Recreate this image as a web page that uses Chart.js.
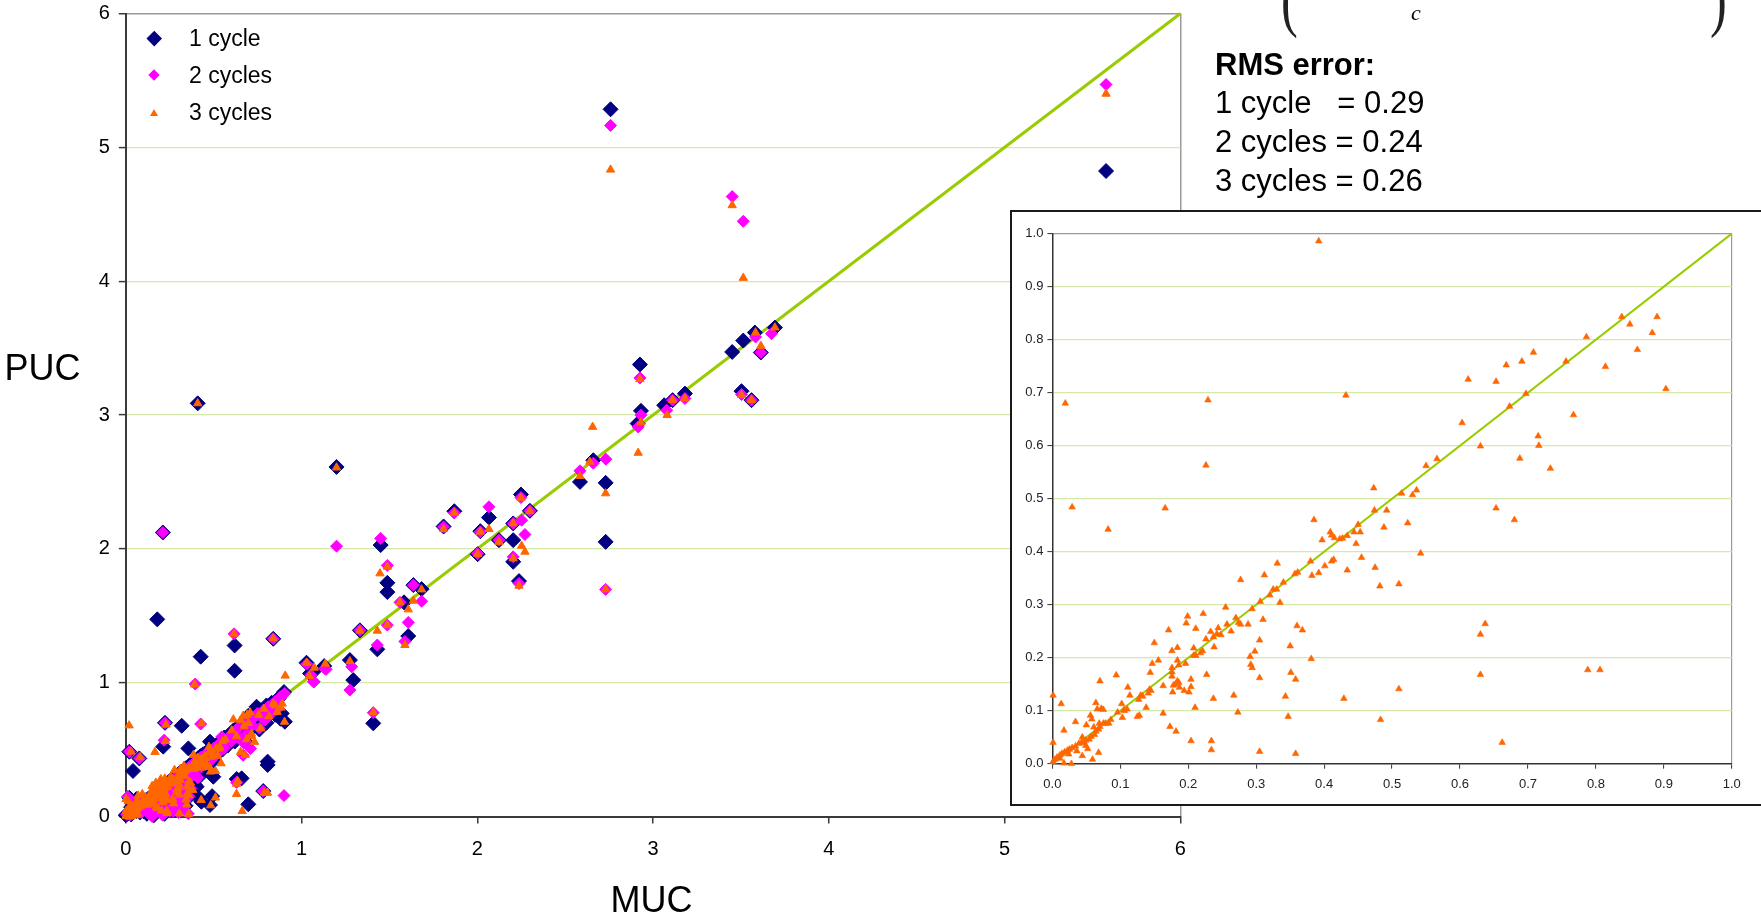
<!DOCTYPE html>
<html><head><meta charset="utf-8">
<script src="https://cdn.jsdelivr.net/npm/chart.js@4.4.1/dist/chart.umd.min.js"></script>
<style>
html,body{margin:0;padding:0;background:#fff;width:1761px;height:922px;overflow:hidden;position:relative;font-family:'Liberation Sans',Arial,sans-serif;}
#main{position:absolute;left:0;top:0;}
.txt{position:absolute;white-space:pre;color:#000;line-height:1;}
#inset{position:absolute;left:1010px;top:210px;width:760px;height:596px;border:2px solid #1a1a1a;box-sizing:border-box;background:#fff;}
#insetCanvas{position:absolute;left:0;top:0;}
.mk{position:absolute;}
.par{font-size:72px;font-family:'Liberation Serif','Times New Roman',serif;color:#222;transform:scaleX(0.7);transform-origin:left top;}
</style></head><body>
<canvas id="main" width="1761" height="922"></canvas>
<div id="inset"><canvas id="insetCanvas" width="756" height="592"></canvas></div>

<div class="txt" style="left:4.5px;top:350px;font-size:36px;">PUC</div>
<div class="txt" style="left:651.5px;top:882px;font-size:36px;transform:translateX(-50%);">MUC</div>

<div class="mk" style="left:148.5px;top:32.5px;width:10.5px;height:10.5px;background:#000080;transform:rotate(45deg);"></div>
<div class="mk" style="left:150px;top:71.2px;width:8px;height:8px;background:#FF00FF;transform:rotate(45deg);"></div>
<div class="mk" style="left:150px;top:108.5px;width:0;height:0;border-left:4px solid transparent;border-right:4px solid transparent;border-bottom:7px solid #FF6600;"></div>
<div class="txt" style="left:189px;top:27px;font-size:23px;">1 cycle</div>
<div class="txt" style="left:189px;top:64px;font-size:23px;">2 cycles</div>
<div class="txt" style="left:189px;top:101px;font-size:23px;">3 cycles</div>

<div class="txt" style="left:1215px;top:49px;font-size:31px;font-weight:bold;">RMS error:</div>
<div class="txt" style="left:1215px;top:87px;font-size:31px;">1 cycle   = 0.29</div>
<div class="txt" style="left:1215px;top:126px;font-size:31px;">2 cycles = 0.24</div>
<div class="txt" style="left:1215px;top:165px;font-size:31px;">3 cycles = 0.26</div>

<div class="txt par" style="left:1281px;top:-37px;">(</div>
<div class="txt" style="left:1411px;top:2px;font-size:22px;font-style:italic;font-family:'Liberation Serif','Times New Roman',serif;">c</div>
<div class="txt par" style="left:1710px;top:-37px;">)</div>

<script>
// ---- data (MUC, PUC) ----
const xTicks = [0,1,2,3,4,5,6];
const insetTicks = [0,0.1,0.2,0.3,0.4,0.5,0.6,0.7,0.8,0.9,1.0];
const identityLine = [[0,0],[6,6]];
const insetLine = [[0,0],[1,1]];

const cycle1 = [
[5.577,4.823],[2.758,5.284],[3.450,3.471],[3.513,3.556],[3.579,3.616],[3.693,3.653],[3.613,3.467],[3.503,3.178],[3.560,3.111],
[2.925,3.377],[2.931,3.031],[2.912,2.936],[3.063,3.073],[3.181,3.160],[3.111,3.111],[2.660,2.662],
[1.199,2.612],[1.450,2.028],[1.488,1.746],[1.488,1.677],[1.683,1.699],[1.583,1.600],[1.332,1.391],[1.431,1.249],[1.607,1.348],
[1.275,1.169],[1.294,1.019],[2.066,2.234],[1.869,2.281],[1.808,2.167],[2.017,2.132],[2.204,2.065],[2.204,1.903],[2.237,1.759],
[2.248,2.406],[2.299,2.284],[2.123,2.065],[2.002,1.960],[2.204,2.190],[2.730,2.493],[2.730,2.052],[2.584,2.500],
[1.028,1.149],[1.048,1.069],[1.129,1.124],[1.636,1.729],[1.408,0.696],[1.067,1.081],
[0.409,3.087],[0.211,2.122],[0.179,1.473],[0.426,1.194],[0.619,1.278],[0.619,1.089],[0.839,1.328],
[0.318,0.678],[0.041,0.340],[0.213,0.522],[0.356,0.509],[0.807,0.410],[0.807,0.385],[0.697,0.091],[0.223,0.700],[0.020,0.484],
[0.077,0.434],[0.782,0.190],[0.631,0.280],[0.479,0.559],[0.744,0.820],[0.887,0.770],[0.905,0.708],[0.403,0.223],[0.498,0.297],
[0.418,0.136],[0.479,0.086],[0.659,0.285],[0.725,0.671],[0.697,0.752],[0.858,0.870],[0.755,0.671],[0.688,0.608],[0.394,0.235],
[0.312,0.143],[0.491,0.152],[0.430,0.110],
[0.000,0.010],[0.010,0.020],[0.020,0.030],[0.030,0.015],[0.035,0.045],[0.045,0.050],[0.055,0.060],[0.060,0.040],[0.070,0.075],
[0.080,0.085],[0.090,0.095],[0.100,0.100],[0.110,0.115],[0.120,0.120],[0.130,0.135],[0.140,0.140],[0.150,0.160],[0.160,0.150],
[0.170,0.180],[0.180,0.185],[0.190,0.200],[0.200,0.210],[0.210,0.225],[0.220,0.230],[0.230,0.240],[0.240,0.250],[0.250,0.265],
[0.260,0.270],[0.270,0.285],[0.280,0.290],[0.290,0.300],[0.300,0.315],[0.310,0.330],[0.320,0.335],[0.330,0.350],[0.340,0.360],
[0.350,0.365],[0.360,0.380],[0.370,0.390],[0.380,0.400],[0.390,0.410],[0.400,0.420],[0.410,0.435],[0.420,0.445],[0.430,0.455],
[0.440,0.465],[0.450,0.470],[0.460,0.480],[0.470,0.490],[0.480,0.505],[0.500,0.520],[0.520,0.540],[0.540,0.560],[0.560,0.590],
[0.580,0.600],[0.600,0.620],[0.610,0.640],[0.630,0.660],[0.650,0.680],[0.660,0.690],[0.680,0.720],[0.700,0.730],[0.720,0.760],
[0.740,0.790],[0.760,0.800],[0.800,0.830],[0.830,0.850],[0.870,0.880],[0.900,0.930],
[0.120,0.060],[0.150,0.100],[0.180,0.120],[0.200,0.150],[0.230,0.160],[0.260,0.200],[0.280,0.150],[0.300,0.220],[0.330,0.250],
[0.350,0.200],[0.370,0.300],[0.400,0.330],[0.420,0.300],[0.440,0.380],[0.460,0.350],[0.500,0.420],[0.520,0.470],[0.550,0.500],
[0.580,0.530],[0.620,0.560],[0.650,0.600],[0.680,0.560],[0.700,0.640],[0.740,0.700],[0.760,0.650],[0.800,0.700],[0.850,0.760],
[0.880,0.730],[0.040,0.110],[0.020,0.140],[0.060,0.130],[0.100,0.040],[0.140,0.030],[0.180,0.050],[0.220,0.060],[0.260,0.050],
[0.300,0.080],[0.330,0.120],[0.370,0.160],
[0.080,0.030],[0.100,0.070],[0.130,0.080],[0.160,0.110],[0.190,0.140],[0.210,0.170],[0.240,0.190],[0.270,0.220],[0.290,0.250],
[0.310,0.270],[0.340,0.290],[0.360,0.320],[0.380,0.340],[0.410,0.370],[0.430,0.400],[0.470,0.440],[0.490,0.460],[0.530,0.510],
[0.570,0.550],[0.260,0.120],[0.240,0.100],[0.320,0.180],[0.380,0.220],[0.340,0.080],[0.280,0.050],[0.220,0.020],[0.160,0.010],
[0.120,0.020],[0.050,0.090],[0.030,0.070]
];

const cycle2 = [
[5.577,5.469],[2.758,5.164],[3.450,4.632],[3.513,4.447],[3.583,3.583],[3.674,3.608],[3.613,3.467],[3.503,3.153],[3.560,3.111],
[2.925,3.277],[2.931,2.999],[2.915,2.911],[3.077,3.036],[3.181,3.123],[3.111,3.111],[2.731,2.670],[2.660,2.640],[2.584,2.583],
[2.730,1.697],[1.199,2.020],[1.450,2.078],[1.488,1.876],[1.636,1.729],[1.683,1.609],[1.560,1.600],[1.607,1.450],[1.588,1.308],
[1.488,1.430],[1.431,1.281],[1.332,1.391],[1.275,0.945],[1.285,1.119],[1.067,1.007],[1.139,1.099],[2.066,2.314],[1.869,2.269],
[1.808,2.164],[2.017,2.127],[2.123,2.065],[2.204,2.190],[2.252,2.214],[2.271,2.107],[2.204,1.940],[2.237,1.741],[2.248,2.383],
[2.299,2.284],[2.002,1.965],[0.211,2.122],[1.408,0.776],[1.029,1.139],[1.052,1.057],[1.072,1.007],[1.133,1.107],
[0.395,0.990],[0.426,0.691],[0.546,0.595],[0.616,1.365],[0.839,1.328],[0.900,0.156],[0.218,0.570],[0.223,0.700],[0.020,0.484],
[0.077,0.434],[0.782,0.190],[0.630,0.255],[0.710,0.508],[0.668,0.458],[0.904,0.920],[0.880,0.895],[0.830,0.830],[0.356,0.020],
[0.300,0.030],
[0.005,0.015],[0.015,0.025],[0.025,0.010],[0.030,0.040],[0.040,0.045],[0.050,0.055],[0.060,0.065],[0.065,0.045],[0.075,0.080],
[0.085,0.090],[0.095,0.100],[0.105,0.105],[0.115,0.120],[0.125,0.125],[0.135,0.140],[0.145,0.150],[0.155,0.155],[0.165,0.175],
[0.175,0.180],[0.185,0.195],[0.195,0.205],[0.205,0.215],[0.215,0.225],[0.225,0.235],[0.235,0.245],[0.245,0.255],[0.255,0.265],
[0.265,0.275],[0.275,0.280],[0.285,0.290],[0.295,0.305],[0.305,0.310],[0.315,0.325],[0.325,0.335],[0.335,0.345],[0.345,0.355],
[0.355,0.360],[0.365,0.375],[0.375,0.385],[0.385,0.395],[0.395,0.405],[0.405,0.420],[0.415,0.430],[0.425,0.440],[0.435,0.445],
[0.445,0.455],[0.455,0.465],[0.465,0.475],[0.480,0.490],[0.500,0.510],[0.520,0.530],[0.540,0.550],[0.560,0.575],[0.590,0.600],
[0.610,0.625],[0.630,0.650],[0.650,0.670],[0.670,0.690],[0.690,0.700],[0.710,0.730],[0.730,0.740],[0.750,0.770],[0.780,0.790],
[0.810,0.820],[0.850,0.860],[0.890,0.900],
[0.110,0.070],[0.140,0.110],[0.170,0.130],[0.200,0.140],[0.220,0.170],[0.250,0.190],[0.270,0.140],[0.290,0.210],[0.320,0.240],
[0.340,0.190],[0.360,0.280],[0.390,0.320],[0.410,0.290],[0.430,0.370],[0.470,0.400],[0.500,0.440],[0.530,0.480],[0.560,0.510],
[0.600,0.560],[0.640,0.590],[0.670,0.550],[0.690,0.620],[0.720,0.680],[0.760,0.660],[0.790,0.720],[0.820,0.760],[0.860,0.800],
[0.030,0.120],[0.010,0.150],[0.050,0.100],[0.090,0.030],[0.130,0.020],[0.170,0.040],[0.210,0.070],[0.250,0.040],[0.290,0.070],
[0.320,0.110],[0.360,0.150],
[0.070,0.040],[0.110,0.060],[0.140,0.090],[0.170,0.120],[0.200,0.160],[0.220,0.180],[0.250,0.210],[0.280,0.230],[0.300,0.260],
[0.330,0.280],[0.350,0.310],[0.370,0.330],[0.400,0.360],[0.420,0.390],[0.450,0.420],[0.480,0.450],[0.510,0.490],[0.550,0.530],
[0.270,0.110],[0.230,0.090],[0.310,0.170],[0.370,0.210],[0.330,0.070],[0.270,0.040],[0.210,0.010],[0.150,0.000],[0.060,0.100],
[0.040,0.080]
];

const cycle3 = [
[0.392,0.986],[0.019,0.680],[0.229,0.686],[0.432,0.695],[0.226,0.563],[0.029,0.484],[0.166,0.482],[0.082,0.442],
[0.838,0.843],[0.890,0.843],[0.850,0.829],[0.883,0.813],[0.786,0.805],[0.861,0.781],[0.708,0.776],[0.691,0.759],[0.668,0.752],
[0.756,0.759],[0.814,0.749],[0.612,0.725],[0.653,0.721],[0.903,0.707],[0.697,0.698],[0.673,0.674],[0.767,0.658],[0.603,0.643],
[0.715,0.618],[0.716,0.600],[0.630,0.599],[0.688,0.576],[0.733,0.557],[0.550,0.562],[0.566,0.575],
[0.473,0.520],[0.514,0.510],[0.536,0.516],[0.530,0.507],[0.474,0.478],[0.492,0.478],[0.653,0.482],[0.680,0.460],[0.523,0.454],
[0.488,0.446],[0.450,0.451],[0.453,0.437],[0.444,0.437],[0.447,0.415],[0.385,0.460],[0.397,0.422],[0.409,0.437],[0.411,0.431],
[0.415,0.426],[0.423,0.424],[0.427,0.425],[0.434,0.430],[0.542,0.397],[0.455,0.389],[0.380,0.382],[0.411,0.382],[0.414,0.385],
[0.401,0.373],[0.475,0.370],[0.434,0.365],[0.392,0.360],[0.382,0.355],[0.361,0.361],[0.357,0.358],[0.331,0.378],[0.312,0.356],
[0.340,0.342],[0.277,0.347],[0.510,0.339],[0.482,0.335],[0.325,0.329],[0.330,0.329],[0.320,0.318],[0.306,0.306],[0.335,0.304],
[0.255,0.295],[0.294,0.292],[0.310,0.272],[0.270,0.275],[0.274,0.266],[0.277,0.263],[0.288,0.263],[0.257,0.263],[0.263,0.250],
[0.244,0.256],[0.248,0.243],[0.242,0.245],[0.237,0.239],[0.233,0.249],[0.226,0.235],[0.222,0.283],[0.199,0.278],[0.197,0.265],
[0.211,0.255],[0.171,0.252],[0.150,0.228],[0.176,0.213],[0.184,0.219],[0.208,0.218],[0.221,0.213],[0.238,0.220],[0.208,0.204],
[0.211,0.204],[0.218,0.209],[0.156,0.195],[0.147,0.189],[0.184,0.195],[0.196,0.189],[0.176,0.181],[0.186,0.186],[0.144,0.172],
[0.176,0.173],[0.176,0.165],[0.227,0.168],[0.291,0.202],[0.298,0.212],[0.305,0.233],[0.292,0.187],[0.294,0.181],[0.305,0.162],
[0.350,0.222],[0.360,0.260],[0.368,0.252],[0.381,0.198],[0.351,0.172],[0.358,0.159],[0.343,0.127],[0.347,0.089],[0.267,0.129],
[0.273,0.097],[0.237,0.123],[0.210,0.106],[0.204,0.159],[0.204,0.145],[0.201,0.135],[0.194,0.138],[0.186,0.153],[0.184,0.156],
[0.181,0.150],[0.178,0.148],[0.177,0.135],[0.187,0.144],[0.163,0.147],[0.173,0.070],[0.182,0.061],[0.163,0.095],[0.204,0.043],
[0.234,0.043],[0.234,0.026],[0.305,0.023],[0.358,0.019],[0.429,0.123],[0.510,0.141],[0.483,0.083],[0.630,0.168],[0.630,0.244],
[0.637,0.264],[0.662,0.040],[0.788,0.177],[0.806,0.177],
[0.094,0.167],[0.070,0.156],[0.111,0.144],[0.114,0.129],[0.127,0.121],[0.130,0.129],[0.133,0.127],[0.141,0.133],[0.143,0.140],
[0.145,0.138],[0.138,0.106],[0.128,0.091],[0.125,0.089],[0.103,0.087],[0.102,0.113],[0.105,0.101],[0.106,0.100],[0.096,0.097],
[0.086,0.083],[0.083,0.076],[0.078,0.076],[0.075,0.076],[0.072,0.104],[0.075,0.102],[0.064,0.115],[0.066,0.103],[0.056,0.091],
[0.058,0.084],[0.069,0.076],[0.070,0.070],[0.068,0.065],[0.064,0.061],[0.062,0.055],[0.057,0.051],[0.054,0.046],[0.049,0.044],
[0.047,0.040],[0.043,0.040],[0.039,0.038],[0.034,0.033],[0.029,0.030],[0.025,0.027],[0.022,0.025],[0.018,0.022],[0.014,0.019],
[0.011,0.016],[0.007,0.012],[0.004,0.008],[0.001,0.004],
[0.001,0.129],[0.013,0.113],[0.034,0.079],[0.017,0.063],[0.001,0.040],[0.050,0.073],[0.044,0.050],[0.049,0.034],[0.052,0.028],
[0.044,0.015],[0.028,0.000],[0.059,0.008],[0.068,0.021],[0.017,0.001],[0.011,0.010],[0.036,0.024],[0.024,0.018],[0.110,0.103],
[0.061,0.069],
[0.907,1.052],[1.029,1.149],[1.044,1.049],[1.072,1.111],[1.135,1.141],[0.616,1.365],[0.839,1.330],[0.409,3.087],[1.408,0.776],
[1.199,2.607],[1.446,1.816],[1.488,1.866],[1.431,1.388],[1.332,1.388],[1.560,1.600],[1.607,1.547],[1.636,1.612],[1.683,1.696],
[1.588,1.281],[1.488,1.430],[1.275,1.160],[1.808,2.147],[1.869,2.269],[2.017,2.127],[2.066,2.147],[2.123,2.052],[2.204,2.190],
[2.204,1.928],[2.237,1.724],[2.252,2.022],[2.271,1.978],[2.248,2.381],[2.299,2.281],[2.002,1.960],[2.730,2.414],[2.730,1.697],
[2.584,2.543],[2.656,2.911],[2.640,2.650],[2.758,4.833],[3.450,4.567],[3.513,4.024],[3.583,3.616],[3.693,3.653],[3.613,3.516],
[3.503,3.148],[3.560,3.111],[2.925,3.267],[2.931,2.944],[2.915,2.717],[3.080,2.999],[3.181,3.123],[3.111,3.111],[5.577,5.400]
];

// ---- chart setup ----
const FONT = "'Liberation Sans', Arial, sans-serif";
const toPts = a => a.map(p => ({x: p[0], y: p[1]}));
const near = (a, b) => Math.abs(a - b) < 1e-9;
const noPadX = (s, h) => { s.height = h; s.paddingLeft = 0; s.paddingRight = 0; };
const noPadY = (s, w) => { s.width = w; s.paddingTop = 0; s.paddingBottom = 0; };

new Chart(document.getElementById('main'), {
  type: 'scatter',
  data: { datasets: [
    {label:'1 cycle', data: toPts(cycle1), pointStyle:'rectRot', pointRadius:7.5, pointHoverRadius:7.5,
     backgroundColor:'#000080', borderColor:'#000080', borderWidth:1, order:4, clip:false},
    {label:'2 cycles', data: toPts(cycle2), pointStyle:'rectRot', pointRadius:6, pointHoverRadius:6,
     backgroundColor:'#FF00FF', borderColor:'#FF00FF', borderWidth:1, order:3, clip:false},
    {label:'3 cycles', data: toPts(cycle3), pointStyle:'triangle', pointRadius:4.8, pointHoverRadius:4.8,
     backgroundColor:'#FF6600', borderColor:'#FF6600', borderWidth:1, order:2, clip:false},
    {label:'y = x', data: toPts(identityLine), showLine:true, borderColor:'#99CC00', borderWidth:3,
     pointRadius:0, order:5, clip:false}
  ]},
  options: {
    responsive:false, animation:false, devicePixelRatio:1, events:[],
    layout:{padding:{left:0, right:580.6, top:13.5, bottom:0}},
    plugins:{legend:{display:false}, tooltip:{enabled:false}},
    scales:{
      x:{type:'linear', min:0, max:6,
        afterBuildTicks: s => { s.ticks = xTicks.map(v => ({value:v})); },
        ticks:{color:'#000', font:{family:FONT, size:20}, padding:14, maxRotation:0},
        grid:{color: c => (c.tick && near(c.tick.value, 6)) ? '#9a9a9a' : 'rgba(0,0,0,0)', lineWidth:1.5,
              tickColor:'#3a3a3a', tickLength:7, tickWidth:1.5},
        border:{display:true, color:'#3a3a3a', width:2},
        afterFit: s => noPadX(s, 105.5)
      },
      y:{type:'linear', min:0, max:6,
        afterBuildTicks: s => { s.ticks = xTicks.map(v => ({value:v})); },
        ticks:{color:'#000', font:{family:FONT, size:20}, padding:9},
        grid:{color: c => { const v = c.tick ? c.tick.value : -1;
                 return near(v, 6) ? '#9a9a9a' : (near(v, 0) ? 'rgba(0,0,0,0)' : '#d6e8a8'); },
              lineWidth: c => (c.tick && near(c.tick.value, 6)) ? 1.5 : 1.2,
              tickColor:'#3a3a3a', tickLength:7, tickWidth:1.5},
        border:{display:true, color:'#3a3a3a', width:2},
        afterFit: s => noPadY(s, 125.8)
      }
    }
  }
});

const insetData = cycle3.filter(p => p[0] <= 1 && p[1] <= 1);
new Chart(document.getElementById('insetCanvas'), {
  type: 'scatter',
  data: { datasets: [
    {label:'3 cycles', data: toPts(insetData), pointStyle:'triangle', pointRadius:3.8, pointHoverRadius:3.8,
     backgroundColor:'#FF6600', borderColor:'#FF6600', borderWidth:0.6, order:1, clip:false},
    {label:'y = x', data: toPts(insetLine), showLine:true, borderColor:'#99CC00', borderWidth:2,
     pointRadius:0, order:2, clip:false}
  ]},
  options: {
    responsive:false, animation:false, devicePixelRatio:1, events:[],
    layout:{padding:{left:0, right:36.2, top:21.6, bottom:0}},
    plugins:{legend:{display:false}, tooltip:{enabled:false}},
    scales:{
      x:{type:'linear', min:0, max:1,
        afterBuildTicks: s => { s.ticks = insetTicks.map(v => ({value:v})); },
        ticks:{color:'#222', font:{family:FONT, size:13}, padding:8, maxRotation:0, callback: v => v.toFixed(1)},
        grid:{color: c => (c.tick && near(c.tick.value, 1)) ? '#9a9a9a' : 'rgba(0,0,0,0)', lineWidth:1.2,
              tickColor:'#333', tickLength:5, tickWidth:1},
        border:{display:true, color:'#333', width:1.5},
        afterFit: s => noPadX(s, 40.3)
      },
      y:{type:'linear', min:0, max:1,
        afterBuildTicks: s => { s.ticks = insetTicks.map(v => ({value:v})); },
        ticks:{color:'#222', font:{family:FONT, size:13}, padding:4, callback: v => v.toFixed(1)},
        grid:{color: c => { const v = c.tick ? c.tick.value : -1;
                 return near(v, 1) ? '#9a9a9a' : (near(v, 0) ? 'rgba(0,0,0,0)' : '#d6e8a8'); },
              lineWidth:1.2, tickColor:'#333', tickLength:5, tickWidth:1},
        border:{display:true, color:'#333', width:1.5},
        afterFit: s => noPadY(s, 40.4)
      }
    }
  }
});
</script>
</body></html>
